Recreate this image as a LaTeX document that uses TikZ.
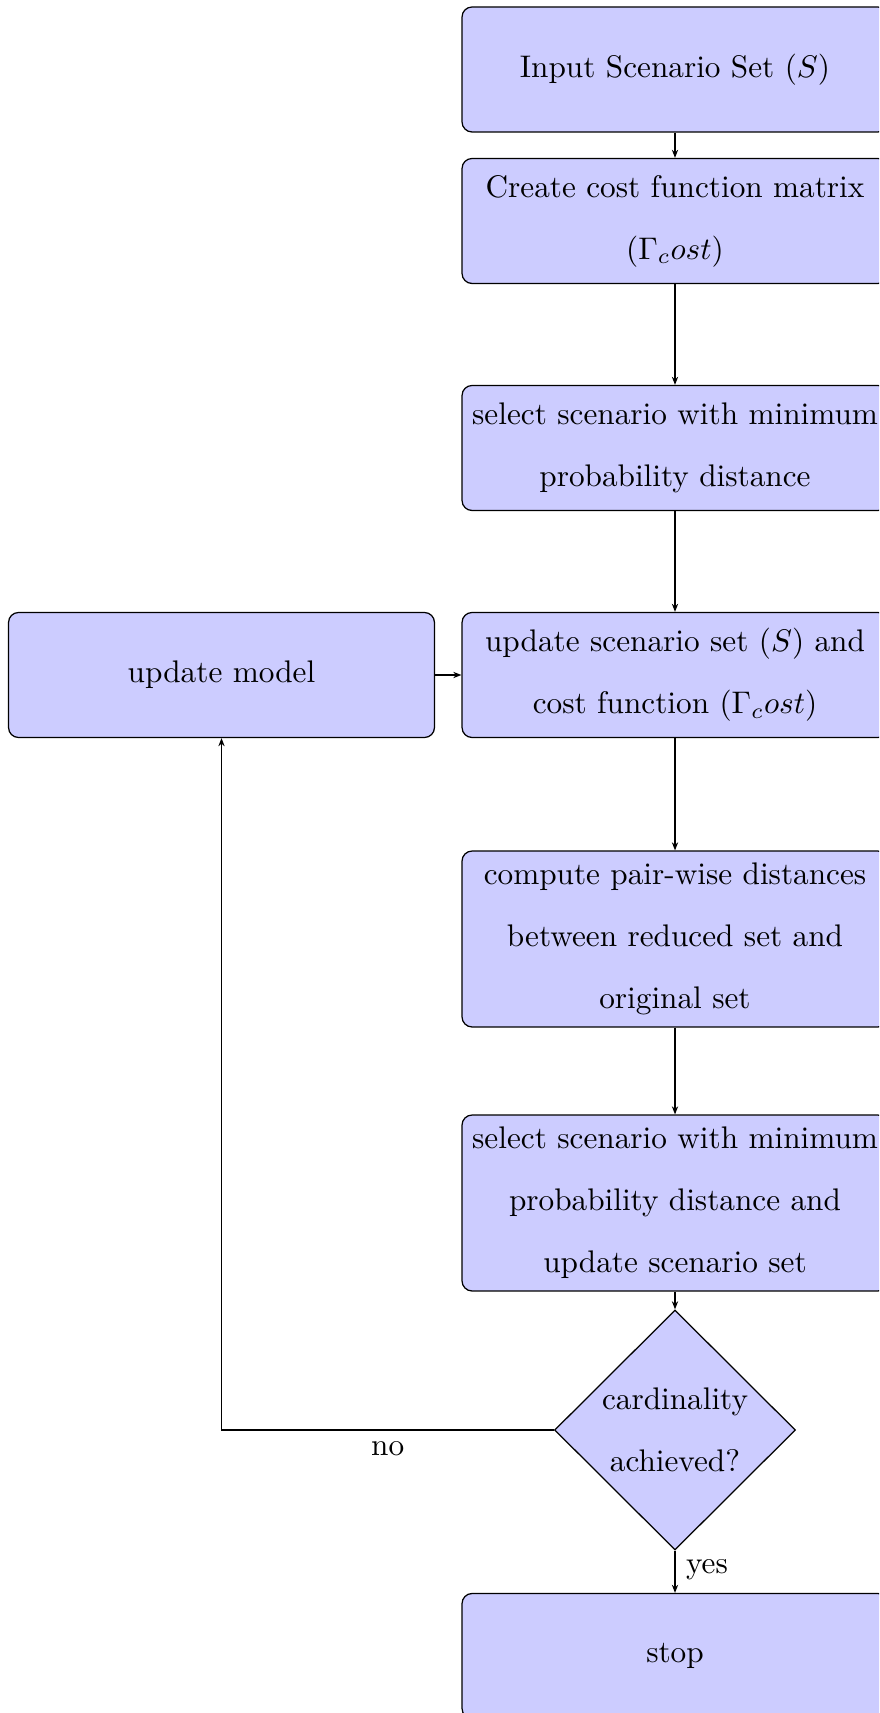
\documentclass[tikz,border=0pt]{standalone}
\usetikzlibrary{shapes.geometric,arrows.meta}
\begin{document}
\begin{tikzpicture}[x=0.32pt,y=-0.32pt,
  box/.style={rectangle, rounded corners=3.2pt, draw=black, fill=blue!20,
    minimum width=136.3pt, minimum height=40pt, align=center, inner sep=0pt,
    font=\fontsize{10}{19.8}\selectfont},
  tallbox/.style={box, minimum height=56.3pt},
  decision/.style={diamond, draw=black, fill=blue!20, aspect=1, inner sep=0pt,
    minimum width=77.1pt, minimum height=76.8pt, align=center,
    font=\fontsize{10}{19.8}\selectfont},
  flow/.style={-{Stealth[length=2.6pt,width=2pt]}, line width=0.4pt},
  lbl/.style={font=\fontsize{10}{12}\selectfont}]
\useasboundingbox (0,0) rectangle (879,1713);
\clip (0,0) rectangle (879,1713);

\node[box] (input) at (675,69.5) {Input Scenario Set ($S$)};
\node[box] (cost) at (675,221) {Create cost function matrix\\($\Gamma_cost$)};
\node[box] (sel) at (675,448) {select scenario with minimum\\probability distance};
\node[box] (upd) at (675,675) {update scenario set ($S$) and\\cost function ($\Gamma_cost$)};
\node[box] (model) at (221.5,675) {update model};
\node[tallbox] (pair) at (675,939) {compute pair-wise distances\\between reduced set and\\original set};
\node[tallbox] (sel2) at (675,1203) {select scenario with minimum\\probability distance and\\update scenario set};
\node[decision] (card) at (675,1430) {cardinality\\achieved?};
\node[box] (stop) at (675,1656) {stop};

\draw[flow] (input) -- (cost);
\draw[flow] (cost) -- (sel);
\draw[flow] (sel) -- (upd);
\draw[flow] (model) -- (upd);
\draw[flow] (upd) -- (pair);
\draw[flow] (pair) -- (sel2);
\draw[flow] (sel2) -- (card);
\draw[flow] (card) -- node[lbl, right, pos=0.45] {yes} (stop);
\draw[flow] (card.west) -| node[lbl, below, pos=0.25] {no} (model.south);
\end{tikzpicture}
\end{document}
